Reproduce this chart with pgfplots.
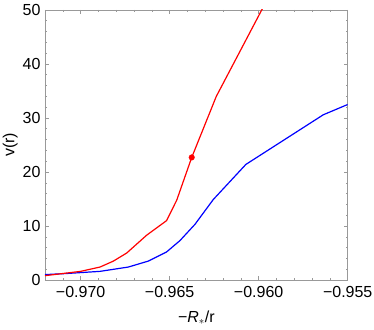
\documentclass[border=0pt]{standalone}
\usepackage{fontspec}
\setmainfont{Liberation Sans}
\usepackage{pgfplots}
\pgfplotsset{compat=1.18}
\definecolor{framegray}{gray}{0.6}
\begin{document}
\fontsize{16}{18}\selectfont
\begin{tikzpicture}
\begin{axis}[
  name=ax,
  scale only axis,
  width=302.7pt, height=270pt,
  xmin=-0.972, xmax=-0.955, ymin=0, ymax=50,
  axis line style={framegray, line width=0.8pt},
  tick style={framegray, line width=0.6pt},
  tick align=inside,
  major tick length=4pt, minor tick length=2.2pt,
  xtick={-0.970,-0.965,-0.960,-0.955},
  xticklabels={−0.970,−0.965,−0.960,−0.955},
  minor xtick={-0.972,-0.971,-0.969,-0.968,-0.967,-0.966,-0.964,-0.963,-0.962,-0.961,-0.959,-0.958,-0.957,-0.956},
  ytick={0,10,20,30,40,50},
  minor y tick num=4,
  yticklabels={0,10,20,30,40,50},
  ticklabel style={font=\fontsize{16}{18}\selectfont, text=black},
  xticklabel style={yshift=-1pt},
  yticklabel style={xshift=1pt},
  xlabel={−\textit{R}$_{\ast}$/r},
  ylabel={v(r)},
  label style={font=\fontsize{16}{18}\selectfont},
  xlabel style={yshift=-2pt},
  ylabel style={yshift=-6pt},
  clip=true,
]
\addplot[blue, line width=1.2pt] coordinates {
(-0.9720,1.0) (-0.9708,1.2) (-0.96891,1.6) (-0.96732,2.4) (-0.96620,3.5)
(-0.96517,5.2) (-0.96442,7.3) (-0.96358,10.3) (-0.96255,14.9) (-0.96072,21.4)
(-0.95637,30.6) (-0.9550,32.5)
};
\addplot[red, line width=1.2pt] coordinates {
(-0.9720,0.8) (-0.9710,1.2) (-0.9700,1.6) (-0.96891,2.4) (-0.96816,3.5)
(-0.96741,5.0) (-0.96629,8.3) (-0.96517,11.0) (-0.96460,14.8) (-0.96376,22.7)
(-0.96238,34.0) (-0.95983,50.0) (-0.9595,52.1)
};
\addplot[red, only marks, mark=*, mark size=2.8pt] coordinates {(-0.96376,22.7)};
\end{axis}
\pgfresetboundingbox
\path ([shift={(-45pt,-49pt)}]ax.south west) rectangle ([shift={(26.3pt,10pt)}]ax.north east);
\end{tikzpicture}
\end{document}
